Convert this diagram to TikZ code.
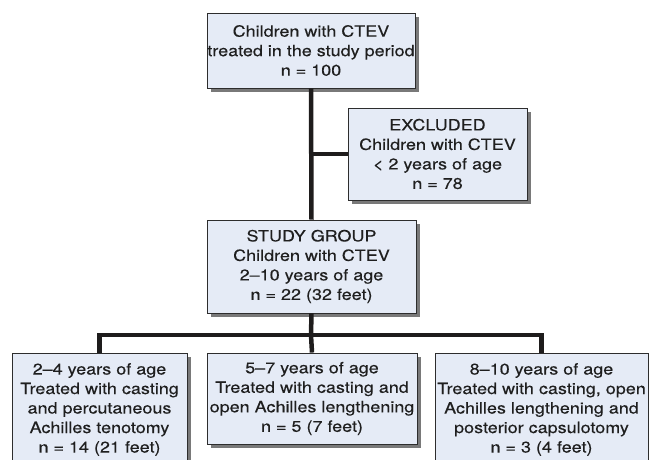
\documentclass[tikz,border=0pt]{standalone}
\usepackage{fontspec}
\setmainfont{TeX Gyre Heros}[FakeStretch=1.16, FakeBold=0.25]
\usetikzlibrary{shadows}

\definecolor{boxfill}{RGB}{229,235,246}
\definecolor{boxline}{RGB}{45,45,45}
\definecolor{linkline}{RGB}{30,28,28}

\begin{document}
\begin{tikzpicture}[x=1pt,y=-1pt,
	box/.style={draw=boxline, line width=0.9pt, fill=boxfill, align=center,
		inner sep=0pt, text=black!88, font=\fontsize{15.5}{19.5}\selectfont,
		drop shadow={shadow xshift=3.5pt, shadow yshift=-3.5pt, fill=black!75, opacity=0.7}},
	link/.style={draw=linkline, line width=4.5pt}]
	\useasboundingbox (0,0) rectangle (649,459);

	% enrolled
	\node[box, minimum width=208pt, minimum height=75pt] (total) at (311,50.5)
		{Children with CTEV\\treated in the study period\\n = 100};

	% excluded
	\node[box, minimum width=179pt, minimum height=92pt] (excl) at (437.5,154)
		{EXCLUDED\\Children with CTEV\\< 2 years of age\\n = 78};

	% study group
	\node[box, minimum width=209pt, minimum height=93pt] (study) at (311.5,266.5)
		{STUDY GROUP\\Children with CTEV\\2--10 years of age\\n = 22 (32 feet)};

	% age groups
	\node[box, minimum width=175pt, minimum height=113pt] (young) at (99.5,409.5)
		{2--4 years of age\\Treated with casting\\and percutaneous\\Achilles tenotomy\\n = 14 (21 feet)};
	\node[box, minimum width=210pt, minimum height=91pt] (mid) at (312,398.5)
		{5--7 years of age\\Treated with casting and\\open Achilles lengthening\\n = 5 (7 feet)};
	\node[box, minimum width=213pt, minimum height=113pt] (old) at (541.5,409.5)
		{8--10 years of age\\Treated with casting, open\\Achilles lengthening and\\posterior capsulotomy\\n = 3 (4 feet)};

	% connectors
	\coordinate (split) at (total.south |- excl.west);
	\coordinate (bar) at (311,335);
	\draw[link] (total.south) -- (study.north);
	\draw[link] (split) -- (excl.west);
	\draw[link] (study.south) -- (bar);
	\draw[link] (young.north) |- (bar) -| (old.north);
	\draw[link] (bar) -- (mid.north);

\end{tikzpicture}
\end{document}
